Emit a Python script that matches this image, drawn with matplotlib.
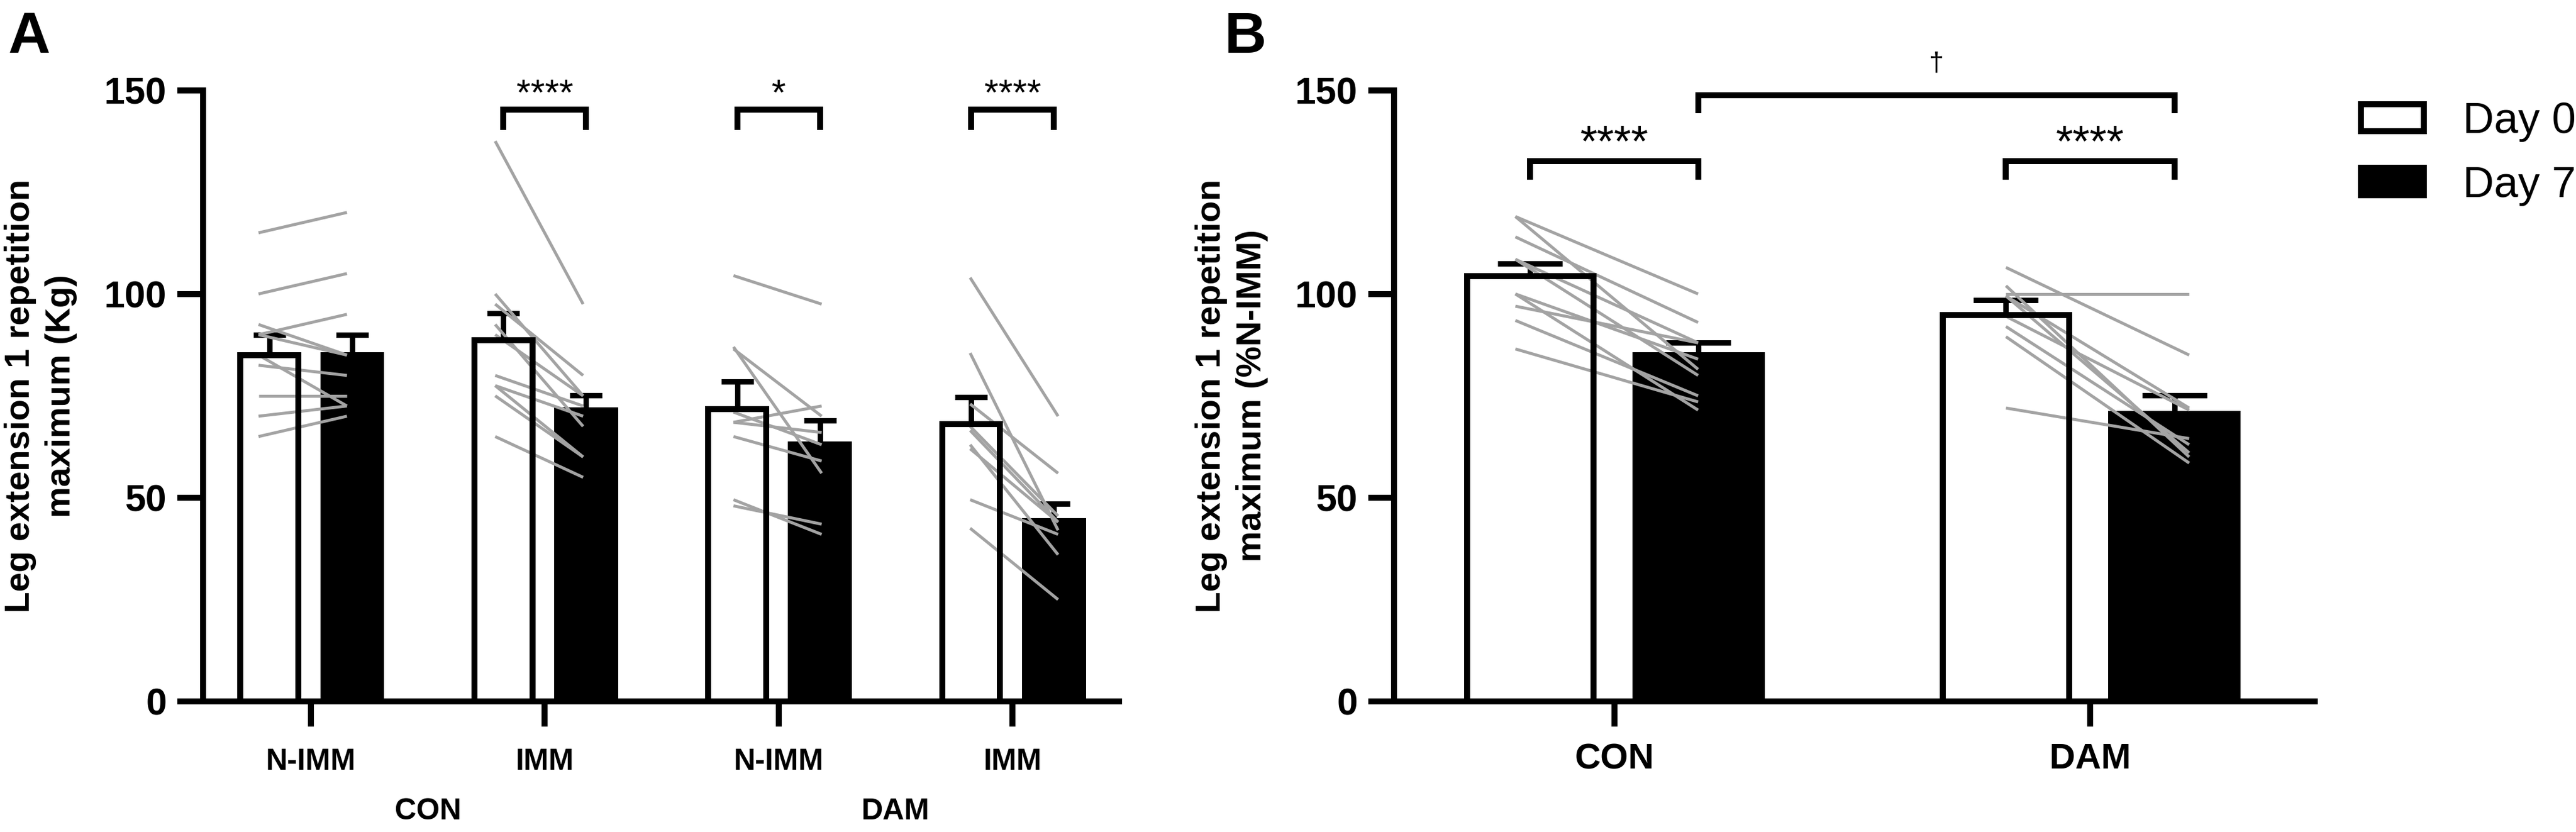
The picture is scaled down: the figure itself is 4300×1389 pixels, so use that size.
import matplotlib
matplotlib.use('Agg')
import matplotlib.pyplot as plt
from matplotlib.patches import Patch
import numpy as np

plt.rcParams['font.family'] = ['Liberation Sans', 'DejaVu Sans']
plt.rcParams['font.weight'] = 'bold'

# ---------------- data: panel A (kg) ----------------
a_ticklabels = ['N-IMM', 'IMM', 'N-IMM', 'IMM']
a_grouplabels = ['CON', 'DAM']
a_day0_mean = [85.0, 88.7, 71.8, 68.0]
a_day0_sem = [5.0, 6.5, 6.7, 6.7]
a_day7_mean = [85.0, 71.5, 63.1, 44.3]
a_day7_sem = [5.0, 3.6, 5.8, 4.2]

a_con_nimm_d0 = [115, 100, 92.5, 90, 90, 85, 82.5, 75, 70, 65]
a_con_nimm_d7 = [120, 105, 85, 95, 85, 72.5, 80, 75, 72.5, 70]
a_con_imm_d0 = [137.5, 100, 97.5, 92.5, 90, 80, 77.5, 77.5, 75, 65]
a_con_imm_d7 = [97.5, 75, 80, 67.5, 75, 72.5, 70, 60, 60, 55]
a_dam_nimm_d0 = [104.5, 87, 86.5, 71, 68.5, 68.5, 65, 49.5, 48]
a_dam_nimm_d7 = [97.5, 56, 70, 63, 72.5, 66, 59, 41, 43.5]
a_dam_imm_d0 = [104, 85.5, 73, 67.5, 66.5, 63, 62, 49.5, 42.5]
a_dam_imm_d7 = [70, 42, 56, 45.5, 44, 36, 44, 41, 25]
a_sig = ['', '****', '*', '****']

# ---------------- data: panel B (%N-IMM) ----------------
b_ticklabels = ['CON', 'DAM']
b_day0_mean = [104.3, 94.8]
b_day0_sem = [3.2, 3.7]
b_day7_mean = [84.9, 70.5]
b_day7_sem = [3.1, 4.6]
b_con_d0 = [119, 119, 114, 108.5, 108.5, 100, 100, 97, 93.5, 86.5]
b_con_d7 = [100, 81.5, 93, 88, 80, 84, 71.5, 88, 75, 73.5]
b_dam_d0 = [106.5, 100, 102, 99.5, 99.5, 94.5, 92, 89.5, 72]
b_dam_d7 = [85, 100, 60, 72, 61, 71.5, 63, 58.5, 64.5]
b_sig = ['****', '****']
b_between_sig = '\u2020'
legend_labels = ['Day 0', 'Day 7']

# ---------------- style ----------------
LW = 7.2
GRAY = '#a3a3a3'
GLW = 3.6
OFF = 0.177

fig = plt.figure(figsize=(43, 13.89), dpi=100)
axA = fig.add_axes([0.07884, 0.15695, 0.3556, 0.73463])
axB = fig.add_axes([0.54116, 0.15695, 0.35744, 0.73463])


def style_axes(ax, xlim, ticklabels, xfs, xpad):
    ax.set_xlim(*xlim)
    ax.set_ylim(0, 150)
    for s in ['top', 'right']:
        ax.spines[s].set_visible(False)
    for s in ['left', 'bottom']:
        ax.spines[s].set_linewidth(LW)
    ax.set_yticks([0, 50, 100, 150])
    ax.set_xticks(np.arange(len(ticklabels)))
    ax.set_xticklabels(ticklabels)
    ax.tick_params(axis='y', length=31, width=LW, labelsize=45, pad=13)
    ax.tick_params(axis='x', length=30, width=LW, labelsize=xfs, pad=xpad)


def draw_bars(ax, d0m, d0s, d7m, d7s, width, capsize, pairs, line_lo, line_hi):
    n = len(d0m)
    c = np.arange(n)
    x0 = c - OFF
    x1 = c + OFF
    ax.bar(x0, d0m, width, color='white', edgecolor='none', zorder=1)
    ax.bar(x1, d7m, width, color='black', edgecolor='black', linewidth=LW, zorder=1)
    for xx, m, s in [(x0, d0m, d0s), (x1, d7m, d7s)]:
        eb = ax.errorbar(xx, m, yerr=[np.zeros(n), s], fmt='none', ecolor='black',
                         elinewidth=6.5, capsize=capsize, capthick=6.5, zorder=2)
        eb[1][0].set_visible(False)
    for i, (pre, post) in enumerate(pairs):
        for a, b in zip(pre, post):
            ax.plot([c[i] + line_lo[i], c[i] + line_hi[i]], [a, b], color=GRAY,
                    lw=GLW, zorder=3, solid_capstyle='butt')
    ax.bar(x0, d0m, width, facecolor='none', edgecolor='black', linewidth=LW, zorder=4)


def bracket(ax, x1, x2, ytop, ybot, text, fs, ty=None, va='baseline'):
    ax.plot([x1, x1, x2, x2], [ybot, ytop, ytop, ybot], color='black', lw=LW,
            clip_on=False, solid_joinstyle='miter', solid_capstyle='butt', zorder=5)
    if ty is None:
        ty = ytop + 1.2
    ax.text((x1 + x2) / 2, ty, text, ha='center', va=va, fontsize=fs,
            fontweight='normal', clip_on=False)


# ---------------- panel A ----------------
style_axes(axA, (-0.461, 3.456), a_ticklabels, 36, 26)
a_pairs = [(a_con_nimm_d0, a_con_nimm_d7), (a_con_imm_d0, a_con_imm_d7),
           (a_dam_nimm_d0, a_dam_nimm_d7), (a_dam_imm_d0, a_dam_imm_d7)]
draw_bars(axA, a_day0_mean, a_day0_sem, a_day7_mean, a_day7_sem, 0.248, 19.5,
          a_pairs, [-0.224, -0.212, -0.193, -0.181], [0.154, 0.164, 0.184, 0.195])
for i, s in enumerate(a_sig):
    if s:
        bracket(axA, i - OFF, i + OFF, 145.3, 140.3, s, 44)
for j, g in enumerate(a_grouplabels):
    axA.text(2 * j + 0.5, -0.1803, g, transform=axA.get_xaxis_transform(),
             ha='center', va='center', fontsize=36, fontweight='bold')

# ---------------- panel B ----------------
style_axes(axB, (-0.463, 1.472), b_ticklabels, 43, 20)
b_pairs = [(b_con_d0, b_con_d7), (b_dam_d0, b_dam_d7)]
draw_bars(axB, b_day0_mean, b_day0_sem, b_day7_mean, b_day7_sem, 0.266, 39,
          b_pairs, [-0.208, -0.177], [0.176, 0.208])
for i, s in enumerate(b_sig):
    bracket(axB, i - OFF, i + OFF, 132.6, 128.0, s, 53)
bracket(axB, 0 + OFF, 1 + OFF, 148.7, 144.3, b_between_sig, 32, ty=156.5, va='center')

# ---------------- labels ----------------
fig.text(68 / 4300, 1 - 661 / 1389, 'Leg extension 1 repetition\nmaximum (Kg)',
         rotation=90, ha='center', va='center', fontsize=42, fontweight='bold',
         multialignment='center', linespacing=1.35)
fig.text(2056 / 4300, 1 - 661 / 1389, 'Leg extension 1 repetition\nmaximum (%N-IMM)',
         rotation=90, ha='center', va='center', fontsize=42, fontweight='bold',
         multialignment='center', linespacing=1.35)
fig.text(14 / 4300, 1 - 88 / 1389, 'A', ha='left', va='baseline', fontsize=70, fontweight='bold')
fig.text(2043 / 4300, 1 - 88 / 1389, 'B', ha='left', va='baseline', fontsize=70, fontweight='bold')

handles = [Patch(facecolor='white', edgecolor='black', linewidth=LW),
           Patch(facecolor='black', edgecolor='black', linewidth=LW)]
fig.legend(handles, legend_labels, loc='upper left', bbox_to_anchor=(3941 / 4300, 1 - 170 / 1389),
           frameon=False, prop={'size': 52, 'weight': 'normal'}, handlelength=1.45,
           handleheight=0.6, handletextpad=0.9, labelspacing=0.55, borderaxespad=0,
           borderpad=0)

fig.savefig('out.png', dpi=100)
